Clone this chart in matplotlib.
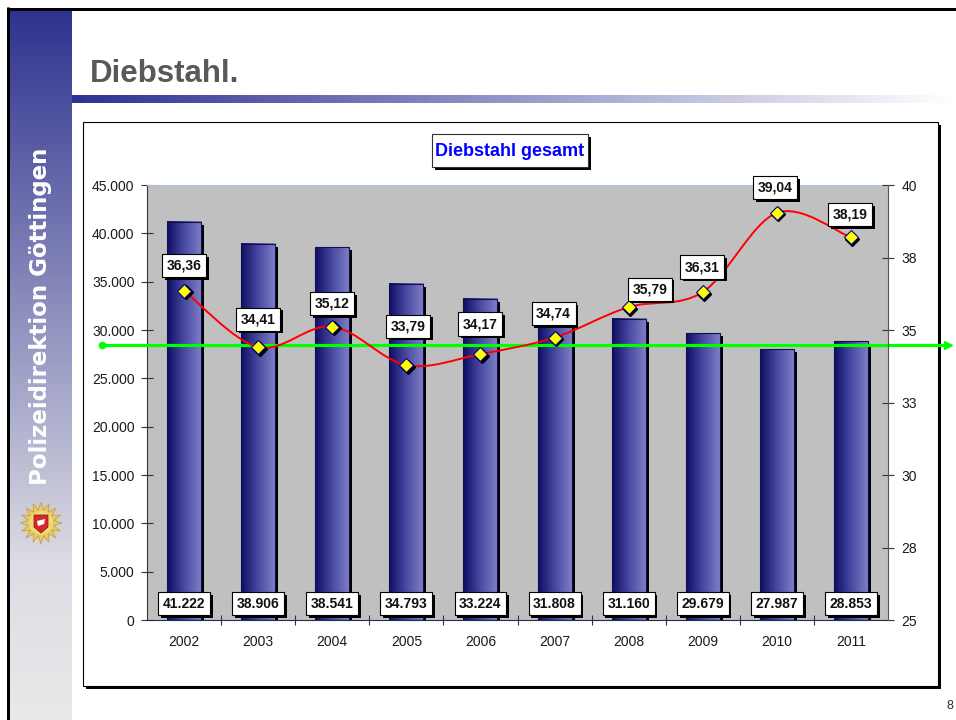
import math
import numpy as np
import matplotlib
matplotlib.use("Agg")
import matplotlib.pyplot as plt
from matplotlib.patches import Rectangle, Polygon, PathPatch
from matplotlib.path import Path
from matplotlib.colors import LinearSegmentedColormap
from matplotlib.transforms import ScaledTranslation, blended_transform_factory
import matplotlib.patheffects as pe
from matplotlib.ticker import MultipleLocator, FuncFormatter

# ---------------- data ----------------
years = ['2002', '2003', '2004', '2005', '2006', '2007', '2008', '2009', '2010', '2011']
cases = [41222, 38906, 38541, 34793, 33224, 31808, 31160, 29679, 27987, 28853]
rates = [36.36, 34.41, 35.12, 33.79, 34.17, 34.74, 35.79, 36.31, 39.04, 38.19]
reference_rate = 34.5
cases_max, cases_step = 45000, 5000
rate_min, rate_max, rate_step = 25, 40, 2.5

page_title = 'Diebstahl.'
chart_title = 'Diebstahl gesamt'
sidebar_text = 'Polizeidirektion Göttingen'
page_no = '8'

# label offsets (pixels) of the rate labels relative to their markers
label_offsets_px = [(0, 25), (0, 28), (0, 23), (2, 39), (0, 30),
                    (-1, 24), (21, 18), (-1, 25), (-2, 25), (-1, 23)]

plt.rcParams['font.family'] = ['Liberation Sans', 'DejaVu Sans']

W, H = 956, 720
fig = plt.figure(figsize=(W / 100, H / 100), dpi=100)
fig.patch.set_facecolor('white')
PT = 0.72  # points per pixel

# ---------------- background / slide ----------------
bg = fig.add_axes([0, 0, 1, 1], zorder=0)
bg.axis('off')

side_cmap = LinearSegmentedColormap.from_list(
    'side', [(0, '#2F338F'), (0.78, '#DCDCE4'), (1, '#E9E9E9')])
bg.imshow(np.linspace(0, 1, 256).reshape(-1, 1), extent=(10, 72, 720, 10),
          cmap=side_cmap, aspect='auto', interpolation='bilinear')
tb_cmap = LinearSegmentedColormap.from_list('tb', ['#2E3192', '#FFFFFF'])
bg.imshow(np.linspace(0, 1, 256).reshape(1, -1), extent=(72, 956, 103, 95),
          cmap=tb_cmap, aspect='auto', interpolation='bilinear')
bg.set_xlim(0, W)
bg.set_ylim(H, 0)

bg.plot([7, W], [8.5, 8.5], color='black', lw=3 * PT, solid_capstyle='butt')
bg.plot([8.5, 8.5], [7, H], color='black', lw=3 * PT, solid_capstyle='butt')

bg.text(90, 82, page_title, fontsize=22.5, fontweight='bold', color='#595959',
        va='baseline', ha='left')
bg.text(41, 316, sidebar_text, rotation=90, ha='center', va='center',
        color='white', fontsize=16.5, fontweight='bold', family='DejaVu Sans')

# badge
cx, cy = 41, 523
ang = np.linspace(0, 2 * np.pi, 33)[:-1] - np.pi / 2
rad = np.where(np.arange(32) % 2 == 0, 21, 13)
bg.add_patch(Polygon(np.column_stack([cx + rad * np.cos(ang), cy + rad * np.sin(ang)]),
                     closed=True, fc='#E8C860', ec='#C9A23A', lw=0.6))
bg.add_patch(plt.Circle((cx, cy), 12, fc='#F0D878', ec='none'))
bg.add_patch(Polygon([(cx - 7, cy - 8), (cx + 7, cy - 8), (cx + 7, cy + 4),
                      (cx, cy + 10), (cx - 7, cy + 4)], closed=True,
                     fc='#D42A2A', ec='#8A1010', lw=0.5))
bg.add_patch(Polygon([(cx - 4, cy - 2), (cx + 4, cy - 4), (cx + 3, cy + 1),
                      (cx - 3, cy + 3)], closed=True, fc='white', ec='none'))

# chart box
bg.add_patch(Rectangle((86, 125), 855, 564, fc='black', ec='none'))
bg.add_patch(Rectangle((83, 122), 855, 564, fc='white', ec='black', lw=0.8))

# chart title box
bg.add_patch(Rectangle((435, 137), 156, 33, fc='black', ec='none'))
bg.add_patch(Rectangle((432, 134), 156, 33, fc='white', ec='#333333', lw=0.8))
bg.text(510, 151, chart_title, ha='center', va='center', fontsize=13,
        fontweight='bold', color='#0000FF')

bg.text(950, 706, page_no, ha='center', va='center', fontsize=9, color='#333333')

# ---------------- chart ----------------
ax = fig.add_axes([147 / W, 1 - 620 / H, (888 - 147) / W, (620 - 185) / H], zorder=2)
ax.set_facecolor('#C0C0C0')
n = len(years)
x = np.arange(n)
bw = 0.46
bar_cmap = LinearSegmentedColormap.from_list('bar', ['#0E0E66', '#4A4AA2', '#8080C8'])
hgrad = np.linspace(0, 1, 64).reshape(1, -1)
shadow_off = ScaledTranslation(3 / 100, -3 / 100, fig.dpi_scale_trans)
for xi, v in zip(x, cases):
    ax.add_patch(Rectangle((xi - bw / 2, 0), bw, v, fc='black', ec='none',
                           transform=ax.transData + shadow_off, zorder=1.5))
    ax.imshow(hgrad, extent=(xi - bw / 2, xi + bw / 2, 0, v), cmap=bar_cmap,
              aspect='auto', zorder=2, interpolation='bilinear')
    ax.add_patch(Rectangle((xi - bw / 2, 0), bw, v, fill=False, ec='#101050',
                           lw=0.8, zorder=2.1))
ax.set_xlim(-0.5, n - 0.5)
ax.set_ylim(0, cases_max)

ax.yaxis.set_major_locator(MultipleLocator(cases_step))
ax.yaxis.set_major_formatter(FuncFormatter(lambda v, p: f"{int(round(v)):,}".replace(',', '.')))
ax.set_xticks(x)
ax.set_xticklabels(years)
ax.set_xticks(np.arange(n - 1) + 0.5, minor=True)
ax.tick_params(axis='x', which='major', length=0, pad=11, labelsize=10, labelcolor='#1a1a1a')
ax.tick_params(axis='x', which='minor', direction='inout', length=7, width=0.8, color='#333333')
ax.tick_params(axis='y', direction='inout', length=8, width=0.8, color='#333333',
               labelsize=10, pad=5, labelcolor='#1a1a1a')
ax.spines['top'].set_color('#A9C4E4')
ax.spines['left'].set_color('#333333')
ax.spines['bottom'].set_color('#1F2F4F')
ax.spines['right'].set_visible(False)

for xi, v in zip(x, cases):
    t = ax.annotate(f"{v:,}".replace(',', '.'), (xi, 0), xytext=(0, 16.5 * PT),
                    textcoords='offset points', ha='center', va='center',
                    fontsize=10, fontweight='bold', color='#111111', zorder=5,
                    bbox=dict(boxstyle='square,pad=0.33', fc='white', ec='black', lw=0.8))
    t.get_bbox_patch().set_path_effects(
        [pe.withSimplePatchShadow(offset=(2, -2), shadow_rgbFace='black', alpha=1.0)])

# right axis
ax2 = ax.twinx()
ax2.set_ylim(rate_min, rate_max)
ax2.yaxis.set_major_locator(MultipleLocator(rate_step))
ax2.yaxis.set_major_formatter(FuncFormatter(lambda v, p: str(int(math.floor(v + 0.5)))))
ax2.tick_params(axis='y', direction='inout', length=8, width=0.8, color='#333333',
                labelsize=10, pad=5.5, labelcolor='#1a1a1a')
for s in ('top', 'left', 'bottom'):
    ax2.spines[s].set_visible(False)
ax2.spines['right'].set_color('#555555')

# reference line spanning chart box
trans = blended_transform_factory(fig.transFigure, ax2.transData)
ax2.plot([102 / W, 948 / W], [reference_rate] * 2, color='#00FF00', lw=2.3,
         transform=trans, clip_on=False, zorder=2.5, solid_capstyle='butt')
ax2.plot([102 / W], [reference_rate], marker='o', ms=4.5, color='#00FF00',
         transform=trans, clip_on=False, zorder=2.5)
ax2.plot([948 / W], [reference_rate], marker='>', ms=5.5, color='#00FF00',
         transform=trans, clip_on=False, zorder=2.5)

# smooth line (cubic Bezier through the data points)
pts = np.column_stack([x, rates]).astype(float)
verts = [pts[0]]
codes = [Path.MOVETO]
for i in range(n - 1):
    p0 = pts[i - 1] if i > 0 else pts[i]
    p1, p2 = pts[i], pts[i + 1]
    p3 = pts[i + 2] if i + 2 < n else pts[i + 1]
    verts += [p1 + (p2 - p0) / 6, p2 - (p3 - p1) / 6, p2]
    codes += [Path.CURVE4] * 3
ax2.add_patch(PathPatch(Path(verts, codes), fill=False, ec='#FF0000', lw=1.4, zorder=3))

ax2.plot(x, rates, ls='none', marker='D', ms=6.8, mfc='black', mec='black',
         transform=ax2.transData + ScaledTranslation(1.5 / 100, -1.5 / 100, fig.dpi_scale_trans),
         zorder=3.5)
ax2.plot(x, rates, ls='none', marker='D', ms=6.8, mfc='#FFFF00', mec='#000080',
         mew=0.8, zorder=4)

for xi, r, (dx, dy) in zip(x, rates, label_offsets_px):
    t = ax2.annotate(f"{r:.2f}".replace('.', ','), (xi, r), xytext=(dx * PT, dy * PT),
                     textcoords='offset points', ha='center', va='center',
                     fontsize=10, fontweight='bold', color='#111111', zorder=5,
                     bbox=dict(boxstyle='square,pad=0.33', fc='white', ec='black', lw=0.8))
    t.get_bbox_patch().set_path_effects(
        [pe.withSimplePatchShadow(offset=(2, -2), shadow_rgbFace='black', alpha=1.0)])

fig.savefig('out.png', dpi=100)
